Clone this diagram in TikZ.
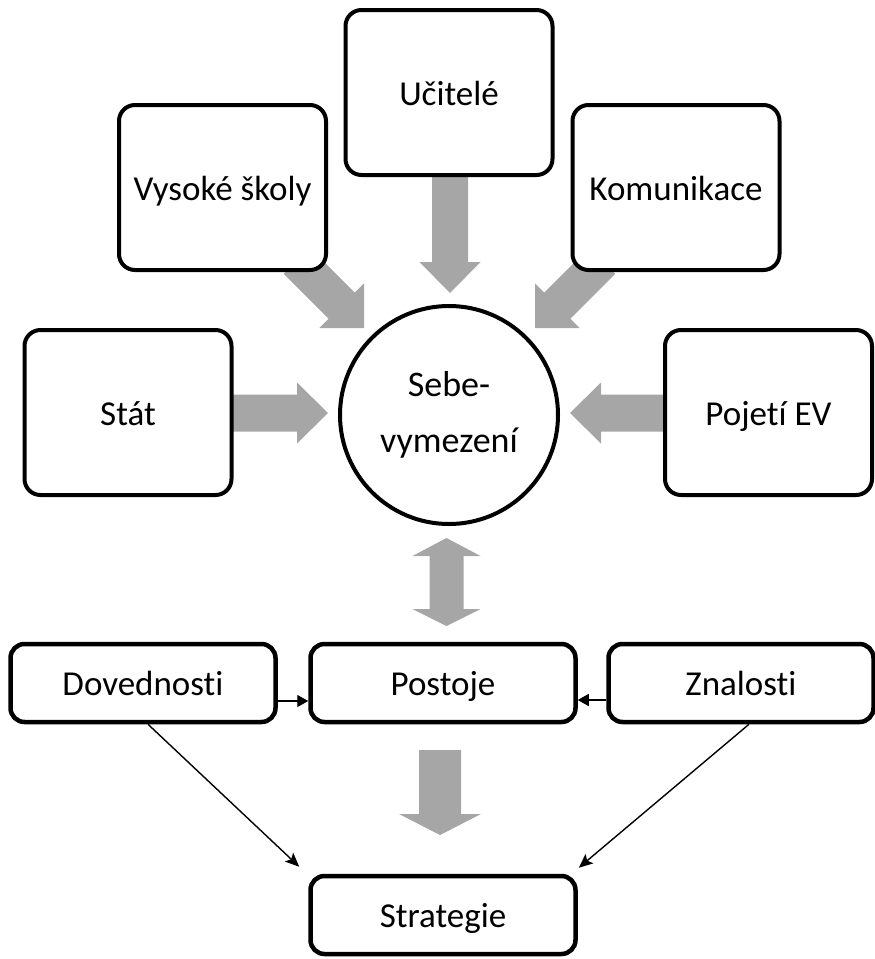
\documentclass[tikz,border=0pt]{standalone}
\usepackage{fontspec}
\setmainfont{Carlito}[RawFeature={-liga;-dlig;-calt}]
\usetikzlibrary{arrows.meta,calc}
\definecolor{arrowgray}{RGB}{166,166,166}

% thick grey block arrow: tip at (#1,#2), pointing along angle #3,
% total length #4, shaft half-width #5, head half-width #6, head length #7
\newcommand\blockarrow[7]{%
  \begin{scope}[shift={(#1,#2)},rotate=#3]
    \fill[arrowgray] (0,0) -- (-#7,#6) -- (-#7,#5) -- (-#4,#5)
      -- (-#4,-#5) -- (-#7,-#5) -- (-#7,-#6) -- cycle;
  \end{scope}}

\begin{document}
\begin{tikzpicture}[x=1pt,y=-1pt,
  boxtext/.style={font=\fontsize{35}{42}\selectfont, text height=25pt, text depth=0pt},
  bigbox/.style={draw=black, line width=4pt, rounded corners=16pt, fill=white,
    minimum width=207pt, minimum height=165pt, inner sep=0pt, boxtext},
  smallbox/.style={draw=black, line width=4.5pt, rounded corners=14pt, fill=white,
    minimum width=265pt, minimum height=78pt, inner sep=0pt, boxtext},
  hub/.style={circle, draw=black, line width=4pt, fill=white, minimum size=218pt,
    inner sep=0pt, align=center, font=\fontsize{36}{56}\selectfont},
  link/.style={line width=1.4pt, -{Triangle[length=11pt,width=12pt]}},
  diag/.style={line width=1.4pt, -{Stealth[length=14pt,width=12pt,inset=3pt]}},
  ]
\useasboundingbox (0,0) rectangle (875,959);

% block arrows (drawn first, boxes cover their tails)
\blockarrow{450}{293}{-90}{123}{18}{30.5}{31}
\blockarrow{364}{328}{-45}{95}{18.5}{31.5}{31.5}
\blockarrow{535}{328}{-135}{95}{18.5}{31.5}{31.5}
\blockarrow{328}{413}{0}{103}{18.5}{30.5}{31}
\blockarrow{570}{413}{180}{102}{18.5}{30.5}{31}

% double arrow between the circle and the attitudes box
\fill[arrowgray] (446.5,538) -- (480.5,556) -- (463.5,556) -- (463.5,609)
  -- (480.5,609) -- (446.5,626) -- (412.5,609) -- (429.5,609) -- (429.5,556)
  -- (412.5,556) -- cycle;

% down arrow towards the strategy box
\blockarrow{440}{835}{-90}{85}{21}{41}{21}

% upper part
\node[bigbox] (uci) at (449,92.5) {Učitelé};
\node[bigbox] (vys) at (222.5,187.5) {Vysoké školy};
\node[bigbox] (kom) at (676,187.5) {Komunikace};
\node[bigbox] (stat) at (128,412.5) {Stát};
\node[bigbox] (poj) at (768.5,412.5) {Pojetí EV};
\node[hub] (seb) at (449,415) {Sebe-\\vymezení};

% lower part
\node[smallbox] (dov) at (143,683) {Dovednosti};
\node[smallbox] (pos) at (443,683) {Postoje};
\node[smallbox] (zna) at (741,683) {Znalosti};
\node[smallbox] (str) at (443,915) {Strategie};

\draw[link] ([yshift=-18pt]dov.east) -- ([yshift=-18pt]pos.west);
\draw[link] ([yshift=-17pt]zna.west) -- ([yshift=-17pt]pos.east);
\draw[diag] ([xshift=5pt]dov.south) -- ([xshift=-9pt,yshift=7pt]str.north west);
\draw[diag] ([xshift=8pt]zna.south) -- ([xshift=1pt,yshift=6pt]str.north east);
\end{tikzpicture}
\end{document}
